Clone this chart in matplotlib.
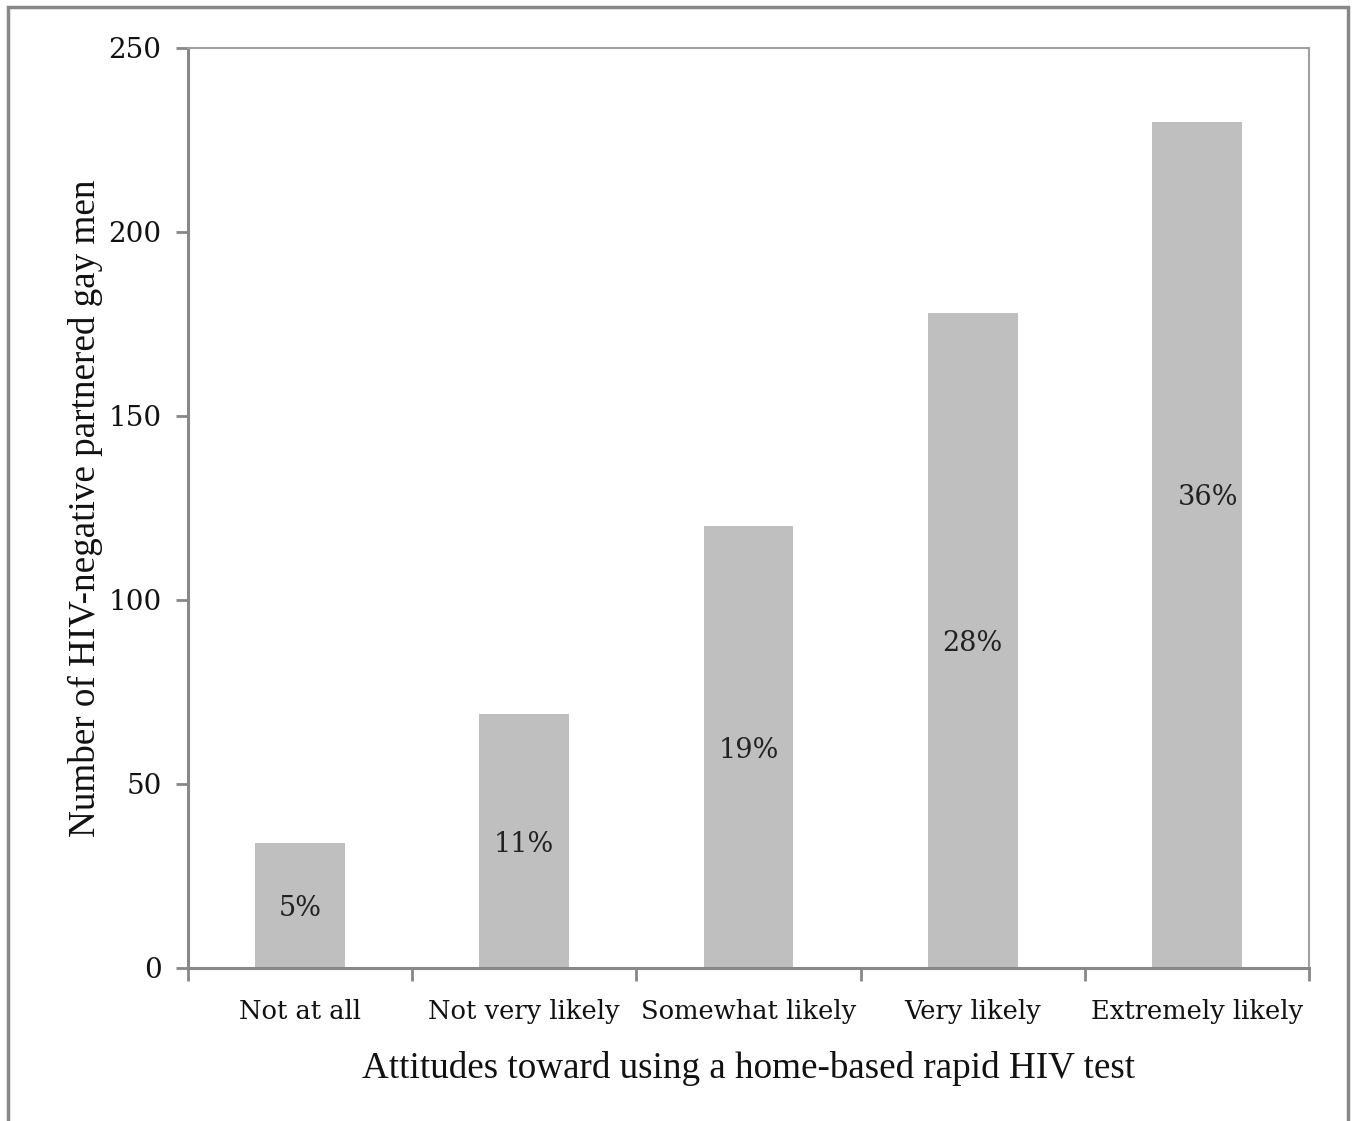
import matplotlib.pyplot as plt
from matplotlib.patches import Rectangle

# Responses (number of men) per attitude category
categories = ["Not at all", "Not very likely", "Somewhat likely",
              "Very likely", "Extremely likely"]
counts = [34, 69, 120, 178, 230]
pct_labels = ["5%", "11%", "19%", "28%", "36%"]

fig = plt.figure(figsize=(13.57, 11.21), dpi=100)
ax = fig.add_axes([188 / 1357, 1 - 968 / 1121, (1309 - 188) / 1357, (968 - 48) / 1121])

x = list(range(len(categories)))
bars = ax.bar(x, counts, width=0.4, color="#bfbfbf", edgecolor="none", zorder=2)

# percentage labels inside the bars
for i, (bar, lab) in enumerate(zip(bars, pct_labels)):
    h = bar.get_height()
    y = h / 2 if i < len(counts) - 1 else h * 0.56
    xc = bar.get_x() + bar.get_width() / 2
    if i == len(counts) - 1:
        xc += 0.05
    ax.text(xc, y, lab, ha="center", va="center_baseline",
            fontsize=19.5, family="DejaVu Serif", color="#222222")

ax.set_xlim(-0.5, len(categories) - 0.5)
ax.set_ylim(0, 250)
ax.set_yticks([0, 50, 100, 150, 200, 250])

# category ticks sit on the boundaries between groups
ax.set_xticks([i - 0.5 for i in range(len(categories) + 1)], minor=False)
ax.set_xticklabels([])
ax.set_xticks(x, minor=True)
ax.set_xticklabels(categories, minor=True, fontsize=18.5, family="DejaVu Serif",
                   color="#111111")
ax.tick_params(axis="x", which="minor", length=0, pad=22)
ax.tick_params(axis="x", which="major", direction="out", length=9, width=2, color="#888888")
ax.tick_params(axis="y", direction="out", length=9, width=2, color="#888888",
               labelsize=20, pad=10, labelcolor="#111111")
for t in ax.get_yticklabels():
    t.set_family("DejaVu Serif")

for side in ["left", "bottom"]:
    ax.spines[side].set_color("#888888")
    ax.spines[side].set_linewidth(2.2)
for side in ["top", "right"]:
    ax.spines[side].set_color("#a0a0a0")
    ax.spines[side].set_linewidth(1.5)

ax.set_xlabel("Attitudes toward using a home-based rapid HIV test",
              fontsize=26.7, family="Liberation Serif", labelpad=20, color="#111111")
ax.set_ylabel("Number of HIV-negative partnered gay men",
              fontsize=26.7, family="Liberation Serif", labelpad=4, color="#111111")

# outer frame around the whole chart
fig.patches.append(Rectangle((8 / 1357, -0.05), (1348 - 8) / 1357, 1.05 - 7 / 1121,
                             transform=fig.transFigure, fill=False,
                             edgecolor="#888888", linewidth=2.5))

fig.savefig("out.png", dpi=100)
